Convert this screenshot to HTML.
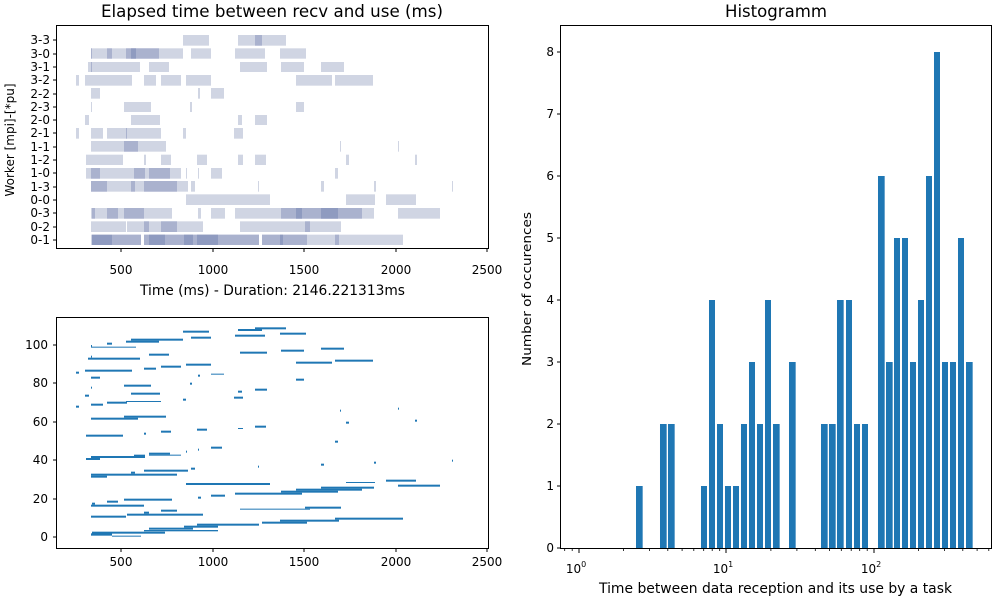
<!DOCTYPE html>
<html><head><meta charset="utf-8"><style>
html,body{margin:0;padding:0;background:#fff;}
svg{display:block;font-family:"DejaVu Sans","Liberation Sans",sans-serif;}
</style></head><body>
<svg width="1000" height="600" viewBox="0 0 1000 600" xmlns="http://www.w3.org/2000/svg">
<rect width="1000" height="600" fill="#fff"/>
<text x="272" y="17" font-size="16.5" text-anchor="middle" textLength="342" lengthAdjust="spacingAndGlyphs">Elapsed time between recv and use (ms)</text>
<text x="776" y="17" font-size="16.5" text-anchor="middle" textLength="102" lengthAdjust="spacingAndGlyphs">Histogramm</text>

<g transform="translate(50,25) scale(0.33333)">
<g fill="#d0d5e3">
<rect x="399" y="30" width="78" height="32"/><rect x="564" y="30" width="144" height="32"/>
<rect x="123" y="70" width="276" height="31"/><rect x="423" y="70" width="60" height="31"/><rect x="555" y="70" width="90" height="31"/><rect x="690" y="70" width="78" height="31"/>
<rect x="114" y="111" width="156" height="30"/><rect x="297" y="111" width="60" height="30"/><rect x="570" y="111" width="81" height="30"/><rect x="693" y="111" width="69" height="30"/><rect x="813" y="111" width="69" height="30"/>
<rect x="78" y="150" width="9" height="32"/><rect x="105" y="150" width="141" height="32"/><rect x="282" y="150" width="36" height="32"/><rect x="333" y="150" width="60" height="32"/><rect x="408" y="150" width="75" height="32"/><rect x="738" y="150" width="108" height="32"/><rect x="855" y="150" width="114" height="32"/>
<rect x="123" y="189" width="27" height="32"/><rect x="444" y="189" width="6" height="32"/><rect x="483" y="189" width="39" height="32"/>
<rect x="123" y="231" width="3" height="30"/><rect x="222" y="231" width="81" height="30"/><rect x="420" y="231" width="6" height="30"/><rect x="738" y="231" width="24" height="30"/>
<rect x="105" y="270" width="12" height="30"/><rect x="243" y="270" width="87" height="30"/><rect x="564" y="270" width="12" height="30"/><rect x="615" y="270" width="36" height="30"/>
<rect x="78" y="309" width="9" height="32"/><rect x="123" y="309" width="36" height="32"/><rect x="171" y="309" width="162" height="32"/><rect x="399" y="309" width="9" height="32"/><rect x="552" y="309" width="27" height="32"/>
<rect x="123" y="348" width="225" height="32"/><rect x="870" y="348" width="3" height="32"/><rect x="1044" y="348" width="3" height="32"/>
<rect x="108" y="389" width="111" height="31"/><rect x="282" y="389" width="6" height="31"/><rect x="333" y="389" width="30" height="31"/><rect x="441" y="389" width="30" height="31"/><rect x="564" y="389" width="15" height="31"/><rect x="615" y="389" width="33" height="31"/><rect x="888" y="389" width="9" height="31"/><rect x="1095" y="389" width="6" height="31"/>
<rect x="108" y="429" width="285" height="32"/><rect x="408" y="429" width="3" height="32"/><rect x="444" y="429" width="3" height="32"/><rect x="483" y="429" width="33" height="32"/><rect x="855" y="429" width="9" height="32"/>
<rect x="123" y="468" width="291" height="32"/><rect x="423" y="468" width="12" height="32"/><rect x="624" y="468" width="3" height="32"/><rect x="813" y="468" width="9" height="32"/><rect x="972" y="468" width="6" height="32"/><rect x="1206" y="468" width="3" height="32"/>
<rect x="408" y="508" width="252" height="32"/><rect x="888" y="508" width="87" height="32"/><rect x="1008" y="508" width="90" height="32"/>
<rect x="123" y="549" width="243" height="32"/><rect x="444" y="549" width="9" height="32"/><rect x="483" y="549" width="42" height="32"/><rect x="555" y="549" width="417" height="32"/><rect x="1044" y="549" width="126" height="32"/>
<rect x="123" y="589" width="105" height="32"/><rect x="231" y="589" width="228" height="32"/><rect x="570" y="589" width="303" height="32"/>
<rect x="123" y="629" width="150" height="31"/><rect x="282" y="629" width="345" height="31"/><rect x="636" y="629" width="423" height="31"/>
</g>
<g fill="#aab2ce">
<rect x="615" y="30" width="21" height="32"/>
<rect x="123" y="70" width="3" height="31"/><rect x="171" y="70" width="15" height="31"/><rect x="228" y="70" width="99" height="31"/>
<rect x="123" y="111" width="3" height="30"/>
<rect x="228" y="309" width="3" height="32"/>
<rect x="222" y="348" width="42" height="32"/>
<rect x="123" y="429" width="27" height="32"/><rect x="252" y="429" width="33" height="32"/><rect x="297" y="429" width="63" height="32"/>
<rect x="123" y="468" width="48" height="32"/><rect x="243" y="468" width="12" height="32"/><rect x="282" y="468" width="99" height="32"/>
<rect x="126" y="549" width="9" height="32"/><rect x="171" y="549" width="33" height="32"/><rect x="222" y="549" width="60" height="32"/><rect x="693" y="549" width="243" height="32"/>
<rect x="282" y="589" width="15" height="32"/><rect x="333" y="589" width="48" height="32"/><rect x="765" y="589" width="15" height="32"/>
<rect x="186" y="629" width="87" height="31"/><rect x="282" y="629" width="345" height="31"/><rect x="636" y="629" width="135" height="31"/><rect x="855" y="629" width="12" height="31"/>
</g>
<g fill="#8f9bc0">
<rect x="243" y="70" width="15" height="31"/>
<rect x="738" y="549" width="18" height="32"/><rect x="813" y="549" width="51" height="32"/>
<rect x="126" y="629" width="60" height="31"/><rect x="297" y="629" width="48" height="31"/><rect x="402" y="629" width="27" height="31"/><rect x="441" y="629" width="63" height="31"/><rect x="690" y="629" width="9" height="31"/>
</g>
</g>
<rect x="56.5" y="25.5" width="432" height="223" fill="none" stroke="#000" stroke-width="1"/>
<g stroke="#000" stroke-width="1">
<line x1="53" x2="56" y1="40" y2="40"/><line x1="53" x2="56" y1="54" y2="54"/><line x1="53" x2="56" y1="67" y2="67"/><line x1="53" x2="56" y1="80" y2="80"/><line x1="53" x2="56" y1="94" y2="94"/><line x1="53" x2="56" y1="107" y2="107"/><line x1="53" x2="56" y1="120" y2="120"/><line x1="53" x2="56" y1="133" y2="133"/><line x1="53" x2="56" y1="147" y2="147"/><line x1="53" x2="56" y1="160" y2="160"/><line x1="53" x2="56" y1="173" y2="173"/><line x1="53" x2="56" y1="187" y2="187"/><line x1="53" x2="56" y1="200" y2="200"/><line x1="53" x2="56" y1="213" y2="213"/><line x1="53" x2="56" y1="227" y2="227"/><line x1="53" x2="56" y1="240" y2="240"/>
<line x1="121" x2="121" y1="249" y2="252"/><line x1="213" x2="213" y1="249" y2="252"/><line x1="304" x2="304" y1="249" y2="252"/><line x1="396" x2="396" y1="249" y2="252"/><line x1="487" x2="487" y1="249" y2="252"/>
</g>
<g font-size="12" text-anchor="end">
<text x="50" y="44">3-3</text><text x="50" y="58">3-0</text><text x="50" y="71">3-1</text><text x="50" y="84">3-2</text><text x="50" y="98">2-2</text><text x="50" y="111">2-3</text><text x="50" y="124">2-0</text><text x="50" y="137">2-1</text><text x="50" y="151">1-1</text><text x="50" y="164">1-2</text><text x="50" y="177">1-0</text><text x="50" y="191">1-3</text><text x="50" y="204">0-0</text><text x="50" y="217">0-3</text><text x="50" y="231">0-2</text><text x="50" y="244">0-1</text>
</g>
<g font-size="12" text-anchor="middle">
<text x="121" y="274">500</text><text x="213" y="274">1000</text><text x="304" y="274">1500</text><text x="396" y="274">2000</text><text x="487" y="274">2500</text>
</g>
<text x="272.5" y="295" font-size="14" text-anchor="middle" textLength="265" lengthAdjust="spacingAndGlyphs">Time (ms) - Duration: 2146.221313ms</text>
<text transform="translate(14,140) rotate(-90)" font-size="12" text-anchor="middle">Worker [mpi]-[*pu]</text>

<g transform="translate(50,315) scale(0.33333)" fill="#1f77b4">
<rect x="615" y="37" width="93" height="6"/><rect x="564" y="42" width="72" height="6"/><rect x="399" y="47" width="78" height="6"/><rect x="690" y="53" width="78" height="6"/><rect x="555" y="59" width="90" height="6"/><rect x="423" y="65" width="60" height="6"/><rect x="243" y="71" width="156" height="6"/><rect x="228" y="77" width="99" height="6"/><rect x="171" y="83" width="15" height="6"/><rect x="123" y="90" width="3" height="6"/><rect x="123" y="95" width="135" height="3"/>
<rect x="813" y="98" width="69" height="6"/><rect x="693" y="104" width="69" height="6"/><rect x="570" y="110" width="81" height="6"/><rect x="297" y="116" width="60" height="6"/><rect x="123" y="122" width="3" height="6"/><rect x="114" y="128" width="156" height="6"/><rect x="855" y="134" width="114" height="6"/><rect x="738" y="140" width="108" height="6"/><rect x="408" y="146" width="75" height="6"/><rect x="333" y="152" width="60" height="6"/><rect x="282" y="158" width="36" height="6"/><rect x="105" y="164" width="141" height="6"/><rect x="78" y="170" width="9" height="6"/><rect x="483" y="176" width="39" height="3"/><rect x="444" y="179" width="6" height="6"/><rect x="123" y="185" width="27" height="6"/><rect x="738" y="191" width="24" height="6"/>
<rect x="420" y="203" width="6" height="6"/><rect x="222" y="209" width="81" height="6"/><rect x="123" y="215" width="3" height="6"/><rect x="615" y="221" width="36" height="6"/><rect x="564" y="227" width="12" height="6"/><rect x="243" y="233" width="87" height="6"/><rect x="105" y="239" width="12" height="6"/><rect x="552" y="245" width="27" height="6"/><rect x="399" y="251" width="9" height="6"/><rect x="228" y="258" width="105" height="3"/><rect x="171" y="260" width="60" height="6"/><rect x="123" y="266" width="36" height="6"/><rect x="78" y="272" width="9" height="6"/><rect x="1044" y="278" width="3" height="6"/><rect x="870" y="284" width="3" height="6"/>
<rect x="222" y="302" width="126" height="6"/><rect x="123" y="308" width="141" height="6"/><rect x="1095" y="314" width="6" height="6"/><rect x="888" y="320" width="9" height="6"/><rect x="615" y="332" width="33" height="6"/><rect x="564" y="339" width="15" height="3"/><rect x="441" y="341" width="30" height="6"/><rect x="333" y="347" width="30" height="6"/><rect x="282" y="353" width="6" height="6"/><rect x="108" y="359" width="111" height="6"/><rect x="855" y="377" width="9" height="6"/>
<rect x="483" y="395" width="33" height="6"/><rect x="444" y="401" width="3" height="6"/><rect x="408" y="407" width="3" height="6"/><rect x="297" y="413" width="63" height="6"/><rect x="297" y="419" width="96" height="3"/><rect x="252" y="419" width="33" height="6"/><rect x="123" y="423" width="162" height="6"/><rect x="108" y="429" width="42" height="6"/>
<rect x="1206" y="434" width="3" height="6"/><rect x="972" y="440" width="6" height="6"/><rect x="813" y="446" width="9" height="6"/><rect x="624" y="452" width="3" height="6"/><rect x="423" y="458" width="12" height="6"/><rect x="282" y="464" width="132" height="6"/><rect x="243" y="470" width="12" height="6"/><rect x="123" y="476" width="258" height="6"/><rect x="123" y="482" width="48" height="6"/>
<rect x="1008" y="494" width="90" height="6"/><rect x="888" y="501" width="87" height="3"/><rect x="408" y="504" width="252" height="6"/><rect x="1044" y="509" width="126" height="6"/><rect x="813" y="515" width="159" height="6"/><rect x="738" y="521" width="198" height="6"/><rect x="693" y="527" width="171" height="6"/><rect x="555" y="533" width="201" height="6"/><rect x="483" y="539" width="42" height="6"/><rect x="444" y="545" width="9" height="6"/><rect x="222" y="551" width="144" height="6"/><rect x="171" y="557" width="33" height="6"/><rect x="126" y="563" width="9" height="6"/><rect x="123" y="569" width="159" height="6"/><rect x="765" y="575" width="108" height="6"/><rect x="570" y="581" width="210" height="3"/><rect x="333" y="584" width="48" height="6"/><rect x="282" y="590" width="15" height="6"/><rect x="231" y="596" width="228" height="6"/><rect x="123" y="602" width="105" height="6"/>
<rect x="855" y="608" width="204" height="6"/><rect x="690" y="614" width="177" height="6"/><rect x="636" y="620" width="135" height="6"/><rect x="441" y="626" width="186" height="6"/><rect x="402" y="632" width="102" height="6"/><rect x="297" y="638" width="132" height="6"/><rect x="282" y="645" width="222" height="4"/><rect x="126" y="650" width="219" height="6"/><rect x="123" y="655" width="63" height="7"/><rect x="186" y="662" width="87" height="3"/>
</g>
<rect x="56.5" y="317.5" width="432" height="231" fill="none" stroke="#000" stroke-width="1"/>
<g stroke="#000" stroke-width="1">
<line x1="53" x2="56" y1="345" y2="345"/><line x1="53" x2="56" y1="383" y2="383"/><line x1="53" x2="56" y1="422" y2="422"/><line x1="53" x2="56" y1="460" y2="460"/><line x1="53" x2="56" y1="499" y2="499"/><line x1="53" x2="56" y1="537" y2="537"/>
<line x1="121" x2="121" y1="549" y2="552"/><line x1="213" x2="213" y1="549" y2="552"/><line x1="304" x2="304" y1="549" y2="552"/><line x1="396" x2="396" y1="549" y2="552"/><line x1="487" x2="487" y1="549" y2="552"/>
</g>
<g font-size="12" text-anchor="end">
<text x="48" y="349">100</text><text x="48" y="387">80</text><text x="48" y="426">60</text><text x="48" y="464">40</text><text x="48" y="503">20</text><text x="48" y="541">0</text>
</g>
<g font-size="12" text-anchor="middle">
<text x="121" y="566">500</text><text x="213" y="566">1000</text><text x="304" y="566">1500</text><text x="396" y="566">2000</text><text x="487" y="566">2500</text>
</g>

<g transform="translate(560,0) scale(0.33333,1)" fill="#1f77b4">
<rect x="228" y="486" width="20" height="62"/>
<rect x="300" y="424" width="20" height="124"/><rect x="324" y="424" width="20" height="124"/>
<rect x="423" y="486" width="18" height="62"/><rect x="447" y="300" width="18" height="248"/><rect x="471" y="424" width="18" height="124"/><rect x="495" y="486" width="18" height="62"/><rect x="519" y="486" width="18" height="62"/><rect x="543" y="424" width="18" height="124"/><rect x="567" y="362" width="18" height="186"/><rect x="591" y="424" width="18" height="124"/><rect x="615" y="300" width="18" height="248"/><rect x="639" y="424" width="20" height="124"/><rect x="687" y="362" width="20" height="186"/>
<rect x="783" y="424" width="20" height="124"/><rect x="807" y="424" width="20" height="124"/><rect x="831" y="300" width="20" height="248"/><rect x="858" y="300" width="18" height="248"/><rect x="882" y="424" width="18" height="124"/><rect x="906" y="424" width="18" height="124"/>
<rect x="954" y="176" width="20" height="372"/><rect x="978" y="362" width="20" height="186"/><rect x="1002" y="238" width="18" height="310"/><rect x="1026" y="238" width="18" height="310"/><rect x="1050" y="362" width="18" height="186"/><rect x="1074" y="300" width="18" height="248"/><rect x="1098" y="176" width="18" height="372"/><rect x="1122" y="52" width="18" height="496"/><rect x="1146" y="362" width="18" height="186"/><rect x="1170" y="362" width="18" height="186"/><rect x="1194" y="238" width="18" height="310"/><rect x="1218" y="362" width="20" height="186"/>
</g>
<rect x="560.5" y="25.5" width="431" height="523" fill="none" stroke="#000" stroke-width="1"/>
<g stroke="#000" stroke-width="1">
<line x1="557" x2="560" y1="548" y2="548"/><line x1="557" x2="560" y1="486" y2="486"/><line x1="557" x2="560" y1="424" y2="424"/><line x1="557" x2="560" y1="362" y2="362"/><line x1="557" x2="560" y1="300" y2="300"/><line x1="557" x2="560" y1="238" y2="238"/><line x1="557" x2="560" y1="176" y2="176"/><line x1="557" x2="560" y1="114" y2="114"/><line x1="557" x2="560" y1="52" y2="52"/>
<line x1="579" x2="579" y1="549" y2="553"/><line x1="726" x2="726" y1="549" y2="553"/><line x1="874" x2="874" y1="549" y2="553"/>
</g>
<g stroke="#000" stroke-width="0.8">
<line x1="564.7" x2="564.7" y1="549" y2="551"/><line x1="572.2" x2="572.2" y1="549" y2="551"/>
<line x1="623.4" x2="623.4" y1="549" y2="551"/><line x1="649.4" x2="649.4" y1="549" y2="551"/><line x1="667.8" x2="667.8" y1="549" y2="551"/><line x1="682.1" x2="682.1" y1="549" y2="551"/><line x1="693.8" x2="693.8" y1="549" y2="551"/><line x1="703.7" x2="703.7" y1="549" y2="551"/><line x1="712.2" x2="712.2" y1="549" y2="551"/><line x1="719.7" x2="719.7" y1="549" y2="551"/>
<line x1="770.9" x2="770.9" y1="549" y2="551"/><line x1="796.9" x2="796.9" y1="549" y2="551"/><line x1="815.3" x2="815.3" y1="549" y2="551"/><line x1="829.6" x2="829.6" y1="549" y2="551"/><line x1="841.3" x2="841.3" y1="549" y2="551"/><line x1="851.2" x2="851.2" y1="549" y2="551"/><line x1="859.7" x2="859.7" y1="549" y2="551"/><line x1="867.2" x2="867.2" y1="549" y2="551"/>
<line x1="918.4" x2="918.4" y1="549" y2="551"/><line x1="944.4" x2="944.4" y1="549" y2="551"/><line x1="962.8" x2="962.8" y1="549" y2="551"/><line x1="977.1" x2="977.1" y1="549" y2="551"/><line x1="988.8" x2="988.8" y1="549" y2="551"/>
</g>
<g font-size="12" text-anchor="end">
<text x="554" y="552">0</text><text x="554" y="490">1</text><text x="554" y="428">2</text><text x="554" y="366">3</text><text x="554" y="304">4</text><text x="554" y="242">5</text><text x="554" y="180">6</text><text x="554" y="118">7</text><text x="554" y="56">8</text>
</g>
<g font-size="12" text-anchor="middle">
<text x="576" y="573">10<tspan font-size="8" dy="-6">0</tspan></text>
<text x="723" y="573">10<tspan font-size="8" dy="-6">1</tspan></text>
<text x="871" y="573">10<tspan font-size="8" dy="-6">2</tspan></text>
</g>
<text x="775.5" y="593" font-size="14" text-anchor="middle" textLength="353" lengthAdjust="spacingAndGlyphs">Time between data reception and its use by a task</text>
<text transform="translate(531,289) rotate(-90)" font-size="12" text-anchor="middle" textLength="154" lengthAdjust="spacingAndGlyphs">Number of occurences</text>
</svg>
</body></html>
